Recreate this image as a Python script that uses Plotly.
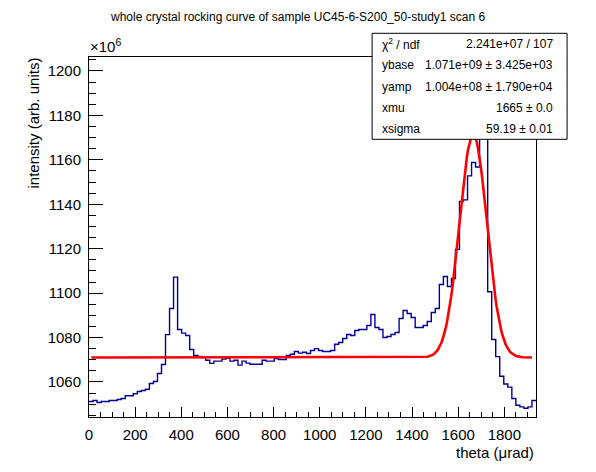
import numpy as np
import plotly.graph_objects as go

# histogram: 111 bins of 17.453 urad starting at 0, contents in units of 1e6
bin_width = 17.453
counts = [
    1051.2, 1051.7, 1050.8, 1051.2, 1051.2, 1051.7, 1051.7, 1052.1, 1052.6, 1053.8,
    1053.8, 1054.7, 1055.7, 1056.2, 1056.7, 1059.3, 1060.2, 1063.8, 1067.9, 1081.3,
    1093.1, 1107.2, 1083.6, 1082.0, 1080.9, 1074.6, 1071.9, 1071.5, 1071.0, 1069.8,
    1068.4, 1069.4, 1069.4, 1070.3, 1070.7, 1069.4, 1069.8, 1067.6, 1069.4, 1068.5,
    1068.0, 1068.0, 1068.0, 1069.8, 1069.4, 1069.4, 1070.6, 1070.1, 1070.1, 1071.9,
    1072.5, 1073.7, 1073.0, 1073.4, 1072.8, 1074.2, 1075.0, 1074.2, 1073.7, 1073.7,
    1074.2, 1077.0, 1077.8, 1079.6, 1081.4, 1080.9, 1083.2, 1083.6, 1083.6, 1085.4,
    1090.4, 1084.5, 1083.6, 1080.0, 1080.5, 1081.4, 1082.3, 1088.6, 1092.2, 1090.8,
    1089.0, 1084.5, 1084.5, 1085.4, 1087.2, 1091.3, 1093.1, 1103.9, 1107.5, 1103.0,
    1106.6, 1119.7, 1141.3, 1142.0, 1152.8, 1158.8, 1156.8, 1199.0, 1185.0, 1100.6,
    1079.1, 1071.4, 1062.6, 1059.1, 1057.7, 1052.6, 1049.5, 1048.8, 1048.2, 1048.8,
    1051.7,
]

# fit parameters (gaussian on a flat base)
ybase = 1071.0      # 1.071e+09
yamp = 100.4        # 1.004e+08
xmu = 1665.0
xsigma = 59.19
fit_range = [10, 1920]

stat_labels = ["χ<sup>2</sup> / ndf", "ybase", "yamp", "xmu", "xsigma"]
stat_values = ["2.241e+07 / 107", "1.071e+09 ± 3.425e+03", "1.004e+08 ± 1.790e+04",
               "1665 ± 0.0", "59.19 ± 0.01"]

x_ticks = [0, 200, 400, 600, 800, 1000, 1200, 1400, 1600, 1800]
y_ticks = [1060, 1080, 1100, 1120, 1140, 1160, 1180, 1200]

# page body has an 8px margin, so the figure is drawn 8px in from the window corner
OFF = 8
W, H = 596 - OFF, 472 - OFF
L, R, T, B = 89.3, 536.4, 56.7, 416.7   # frame in window pixels
FONT = "Liberation Sans, Arial, sans-serif"


def px(x):
    return (x - L) / (R - L)


def py(y):
    return (B - y) / (B - T)


edges = np.arange(len(counts) + 1) * bin_width
xs = list(edges)
ys = counts + [counts[-1]]

xf = np.linspace(fit_range[0], fit_range[1], 400)
yf = ybase + yamp * np.exp(-0.5 * ((xf - xmu) / xsigma) ** 2)

fig = go.Figure()
fig.add_trace(go.Scatter(x=xs, y=ys, mode="lines", line=dict(color="#000099", width=1.4, shape="hv"),
                         showlegend=False, hoverinfo="skip"))
fig.add_trace(go.Scatter(x=xf, y=yf, mode="lines", line=dict(color="#ff0000", width=2.6),
                         showlegend=False, hoverinfo="skip"))

axis_common = dict(showgrid=False, zeroline=False, showline=True, mirror=True, linecolor="black",
                   linewidth=1, ticks="inside", tickcolor="black",
                   tickfont=dict(family=FONT, size=15, color="black"))

fig.update_xaxes(range=[0, len(counts) * bin_width], tickvals=x_ticks, ticklen=10,
                 minor=dict(dtick=50, tick0=0, ticks="inside", ticklen=5, tickcolor="black"),
                 ticklabelstandoff=4, **axis_common)
fig.update_yaxes(range=[1044.24, 1206.3], tickvals=y_ticks, ticklen=14,
                 minor=dict(dtick=5, tick0=0, ticks="inside", ticklen=7, tickcolor="black"),
                 ticklabelstandoff=4, **axis_common)

# stats box
fig.add_shape(type="rect", xref="paper", yref="paper", x0=px(372.5), x1=px(567.5), y0=py(139), y1=py(33),
              line=dict(color="black", width=1), fillcolor="white", layer="above")

ann = []
ann.append(dict(text="whole crystal rocking curve of sample UC45-6-S200_50-study1 scan 6",
                x=px(298), y=py(17), xanchor="center", yanchor="middle", font=dict(size=12)))
ann.append(dict(text="×10<sup>6</sup>", x=px(88), y=py(57), xanchor="left", yanchor="bottom",
                font=dict(size=15)))
ann.append(dict(text="intensity (arb. units)", x=px(34), y=py(55), xanchor="center", yanchor="top",
                textangle=-90, font=dict(size=15)))
ann.append(dict(text="theta (μrad)", x=px(536), y=py(452), xanchor="right", yanchor="middle",
                font=dict(size=15)))
row_y = [43.7, 65, 86.7, 107.7, 128.3]
for lab, val, yy in zip(stat_labels, stat_values, row_y):
    ann.append(dict(text=lab, x=px(380), y=py(yy), xanchor="left", yanchor="middle", font=dict(size=12)))
    ann.append(dict(text=val, x=px(555), y=py(yy), xanchor="right", yanchor="middle", font=dict(size=12)))
for a in ann:
    a.update(xref="paper", yref="paper", showarrow=False)
    a["font"].update(family=FONT, color="black")

fig.update_layout(width=W, height=H, autosize=False,
                  margin=dict(l=L - OFF, r=596 - R, t=T - OFF, b=472 - B, pad=0),
                  paper_bgcolor="white", plot_bgcolor="white",
                  font=dict(family=FONT, color="black"),
                  annotations=ann, showlegend=False)

fig.write_html("out.html", config={"displayModeBar": False})
